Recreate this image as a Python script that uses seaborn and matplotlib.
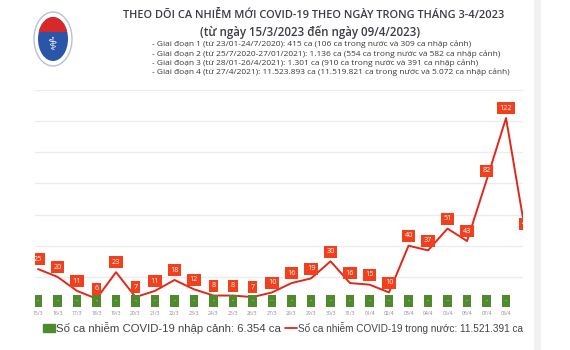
import numpy as np
import pandas as pd
import matplotlib
matplotlib.use("Agg")
import matplotlib.pyplot as plt
import seaborn as sns
from matplotlib.patches import Patch, Ellipse, Rectangle
from matplotlib.lines import Line2D

# DATA
dates = ["15/3", "16/3", "17/3", "18/3", "19/3", "20/3", "21/3", "22/3", "23/3",
         "24/3", "25/3", "26/3", "27/3", "28/3", "29/3", "30/3", "31/3",
         "01/4", "02/4", "03/4", "04/4", "05/4", "06/4", "07/4", "08/4", "09/4"]
domestic = [25, 20, 11, 6, 23, 7, 11, 18, 12, 8, 8, 7, 10, 16, 19, 30, 16,
            15, 10, 40, 37, 51, 43, 82, 122, 48]
imported = [0, 0, 0, 0, 0, 0, 0, 0, 0, 0, 0, 0, 0, 0, 0, 0, 0,
            0, 0, 0, 0, 0, 0, 0, 0, 0]

title1 = "THEO DÕI CA NHIỄM MỚI COVID-19 THEO NGÀY TRONG THÁNG 3-4/2023"
title2 = "(từ ngày 15/3/2023 đến ngày 09/4/2023)"
notes = [
    "- Giai đoạn 1 (từ 23/01-24/7/2020): 415 ca (106 ca trong nước và 309 ca nhập cảnh)",
    "- Giai đoạn 2 (từ 25/7/2020-27/01/2021): 1.136 ca (554 ca trong nước và 582 ca nhập cảnh)",
    "- Giai đoạn 3 (từ 28/01-26/4/2021): 1.301 ca (910 ca trong nước và 391 ca nhập cảnh)",
    "- Giai đoạn 4 (từ 27/4/2021): 11.523.893 ca (11.519.821 ca trong nước và 5.072 ca nhập cảnh)",
]
legend_labels = ["Số ca nhiễm COVID-19 nhập cảnh: 6.354 ca",
                 "Số ca nhiễm COVID-19 trong nước: 11.521.391 ca"]

RED = "#e3261b"
LABEL_RED = "#f2401c"
GREEN = "#4f8a2c"


def main():
    sns.set_theme(style="white")
    plt.rcParams["font.family"] = ["Open Sans", "DejaVu Sans"]

    df = pd.DataFrame({"date": dates, "domestic": domestic, "imported": imported})
    df["pos"] = range(len(df))

    fig = plt.figure(figsize=(5.7, 3.5), dpi=100)
    ax = fig.add_axes([35 / 570, 1 - 308 / 350, (523 - 35) / 570, (308 - 90) / 350])

    # grid lines
    for yv in range(20, 141, 20):
        ax.axhline(yv, color="#ececec", lw=1.0, zorder=0)

    # imported bars (all zero) + domestic line
    sns.barplot(data=df, x="pos", y="imported", color=GREEN, ax=ax,
                native_scale=True, width=0.4, zorder=2)
    sns.lineplot(data=df, x="pos", y="domestic", color=RED, lw=1.4, ax=ax,
                 zorder=3, legend=False)

    # value labels
    for p, v in zip(df["pos"], df["domestic"]):
        ax.annotate(str(v), (p, v), xytext=(0, 7), textcoords="offset points",
                    ha="center", va="center", fontsize=5.2, color="white",
                    bbox=dict(boxstyle="square,pad=0.35", fc=LABEL_RED, ec="none"),
                    annotation_clip=False, clip_on=True, zorder=5)
    for p, v in zip(df["pos"], df["imported"]):
        ax.annotate("-" if v == 0 else str(v), (p, v), xytext=(0, 5),
                    textcoords="offset points", ha="center", va="center",
                    fontsize=4.5, color="white",
                    bbox=dict(boxstyle="square,pad=0.5", fc=GREEN, ec="none"),
                    clip_on=True, zorder=4)

    xmin, xmax = -0.154, 24.87
    ax.set_xlim(xmin, xmax)
    ax.set_ylim(0, 140)
    shown = df[df["pos"] <= xmax]
    ax.set_xticks(shown["pos"])
    ax.set_xticklabels(shown["date"], fontsize=3.6, color="#8a8a8a")
    ax.tick_params(axis="x", length=0, pad=2)
    ax.set_yticks([])
    ax.set_xlabel("")
    ax.set_ylabel("")
    for s in ax.spines.values():
        s.set_visible(False)
    ax.patch.set_alpha(0)

    # titles and notes
    fig.text(314 / 570, 1 - 15 / 350, title1, ha="center", va="center",
             fontsize=7.9, color="#3c3c46", fontweight="semibold")
    fig.text(310 / 570, 1 - 32 / 350, title2, ha="center", va="center",
             fontsize=8.3, color="#3c3c46", fontweight="semibold")
    for i, line in enumerate(notes):
        fig.text(152 / 570, 1 - (44.5 + i * 9.3) / 350, line, ha="left",
                 va="center", fontsize=6.05, color="#3a3a3a")

    # logo (rough)
    outer = Ellipse((53 / 570, 1 - 39 / 350), 38 / 570, 54 / 350,
                    transform=fig.transFigure, fc="white", ec="#b8c0d4", lw=1.0)
    inner = Ellipse((53 / 570, 1 - 39 / 350), 30 / 570, 44 / 350,
                    transform=fig.transFigure, fc="#2a55a8", ec="none")
    fig.patches.extend([outer, inner])
    red_top = Rectangle((38 / 570, 1 - 32 / 350), 30 / 570, 16 / 350,
                        transform=fig.transFigure, fc="#d8282a", ec="none")
    fig.patches.append(red_top)
    red_top.set_clip_path(inner)
    fig.text(53 / 570, 1 - 45 / 350, "⚕", ha="center", va="center", fontsize=13,
             color="white", family=["DejaVu Sans"])

    # light gray band at right
    fig.patches.append(Rectangle((534 / 570, 0), 7 / 570, 1, transform=fig.transFigure,
                                 fc="#f1f1f1", ec="none"))

    # legend
    handles = [Patch(color=GREEN), Line2D([0], [0], color=RED, lw=1.3)]
    leg = fig.legend(handles, legend_labels, loc="center",
                     bbox_to_anchor=(283 / 570, 1 - 328 / 350), ncol=2, frameon=False,
                     handlelength=1.1, handletextpad=0.1, columnspacing=0.3,
                     prop={"family": ["Liberation Sans", "DejaVu Sans"], "size": 8.2})
    for t in leg.get_texts():
        t.set_color("#444444")
    leg.get_texts()[1].set_fontsize(7.2)

    fig.savefig("out.png", dpi=100)


if __name__ == "__main__":
    main()
